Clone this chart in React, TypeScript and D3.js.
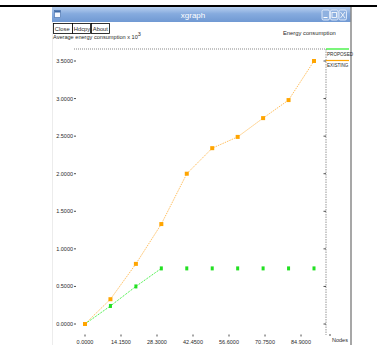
import React from "react";
import * as d3 from "d3";

const nodes = [0, 10, 20, 30, 40, 50, 60, 70, 80, 90];
const existing = [0, 0.33, 0.8, 1.33, 2.0, 2.34, 2.49, 2.74, 2.98, 3.5];
const proposed = [0, 0.24, 0.5, 0.74, 0.74, 0.74, 0.74, 0.74, 0.74, 0.74];
const yTicks = [0, 0.5, 1.0, 1.5, 2.0, 2.5, 3.0, 3.5];
const xTicks = [0, 14.15, 28.3, 42.45, 56.6, 70.75, 84.9];
const seriesNames = ["PROPOSED", "EXISTING"];

const W = 377;
const H = 345;
const FONT = "'Liberation Sans', Arial, sans-serif";
const INK = "#2a2a2a";

export default function App() {
  const x = d3.scaleLinear().domain([0, 90]).range([85, 314]);
  const y = d3.scaleLinear().domain([0, 3.5]).range([324, 61]);
  const plot = { left: 74, right: 326, top: 49, bottom: 335 };

  const existingPts = nodes.map((n, i) => [n, existing[i]] as [number, number]);
  const proposedPts = nodes.map((n, i) => [n, proposed[i]] as [number, number]);
  const line = d3
    .line<[number, number]>()
    .x((d) => x(d[0]))
    .y((d) => y(d[1]));

  // segments of proposed where value changes (flat dotted segments vanish in the reference)
  const propSegs: [number, number][][] = [];
  for (let i = 0; i < proposedPts.length - 1; i++) {
    if (proposedPts[i][1] !== proposedPts[i + 1][1]) propSegs.push([proposedPts[i], proposedPts[i + 1]]);
  }

  const fmt = (v: number) => v.toFixed(4);

  return (
    <svg
      width={W}
      height={H}
      style={{ position: "absolute", left: 0, top: 0, background: "#fff" }}
      fontFamily={FONT}
    >
      <defs>
        <linearGradient id="tb" x1="0" y1="0" x2="0" y2="1">
          <stop offset="0" stopColor="#b8d0ef" />
          <stop offset="0.45" stopColor="#86abde" />
          <stop offset="1" stopColor="#7099d3" />
        </linearGradient>
      </defs>
      <rect x={0} y={0} width={W} height={H} fill="#fff" />
      {/* top black rule */}
      <rect x={0} y={5} width={W} height={2} fill="#000" />

      {/* window chrome */}
      <rect x={52} y={7} width={299} height={15} fill="url(#tb)" />
      <rect x={54.5} y={10.5} width={6} height={7} fill="#f4f8ff" stroke="#3e6aa8" strokeWidth={0.6} />
      <rect x={54.5} y={10.5} width={6} height={2} fill="#3e6aa8" />
      <text x={193} y={18} fontSize={8} fill="#fff" textAnchor="middle">
        xgraph
      </text>
      {[322, 330.5, 339].map((bx, i) => (
        <g key={i}>
          <rect x={bx} y={10} width={7.5} height={10} rx={1.5} fill="#8fb1e0" stroke="#eef4ff" strokeWidth={0.8} />
        </g>
      ))}
      <line x1={323.5} y1={17.5} x2={327.5} y2={17.5} stroke="#fff" strokeWidth={1} />
      <rect x={332} y={12.5} width={4.5} height={5} fill="none" stroke="#fff" strokeWidth={0.8} />
      <line x1={340.5} y1={12} x2={345} y2={18} stroke="#fff" strokeWidth={0.8} />
      <line x1={345} y1={12} x2={340.5} y2={18} stroke="#fff" strokeWidth={0.8} />
      <line x1={52.5} y1={22} x2={52.5} y2={H} stroke="#ececec" strokeWidth={1} />
      <line x1={351} y1={7} x2={351} y2={H} stroke="#8a8a8a" strokeWidth={1.5} />

      {/* buttons */}
      {[
        { x: 53, w: 19, t: "Close" },
        { x: 72, w: 18, t: "Hdcpy" },
        { x: 91, w: 18, t: "About" },
      ].map((b) => (
        <g key={b.t}>
          <rect x={b.x + 0.5} y={23.5} width={b.w} height={10} fill="#fff" stroke="#000" strokeWidth={0.8} />
          <text x={b.x + 1.8} y={31.2} fontSize={5.8} fill={INK}>
            {b.t}
          </text>
        </g>
      ))}
      <text x={53} y={38.5} fontSize={5.6} fill={INK}>
        Average energy consumption  x 10
        <tspan dy={-3} fontSize={5.5}>
          3
        </tspan>
      </text>
      <text x={283} y={35} fontSize={5.8} fill={INK}>
        Energy consumption
      </text>

      {/* plot frame */}
      <line x1={plot.left} y1={plot.top} x2={plot.right} y2={plot.top} stroke="#555" strokeWidth={0.7} strokeDasharray="1,1" />
      <line x1={plot.right} y1={plot.top} x2={plot.right} y2={plot.bottom} stroke="#a8a8a8" strokeWidth={1.2} strokeDasharray="1.5,1" />

      {/* y ticks */}
      {yTicks.map((t) => (
        <g key={t}>
          <text x={73} y={y(t) + 2} fontSize={5.5} textAnchor="end" fill={INK}>
            {fmt(t)}
          </text>
          <line x1={74} y1={y(t)} x2={76} y2={y(t)} stroke="#000" strokeWidth={0.7} />
          <line x1={323.5} y1={y(t)} x2={326} y2={y(t)} stroke="#000" strokeWidth={0.7} />
        </g>
      ))}

      {/* x ticks */}
      {xTicks.map((t) => (
        <g key={t}>
          <line x1={x(t)} y1={334.5} x2={x(t)} y2={336.5} stroke="#000" strokeWidth={0.7} />
          <text x={x(t)} y={344} fontSize={5.5} textAnchor="middle" fill={INK}>
            {fmt(t)}
          </text>
        </g>
      ))}
      <text x={332} y={342} fontSize={5.5} fill={INK}>
        Nodes
      </text>
      <line x1={329} y1={335} x2={331} y2={335} stroke="#000" strokeWidth={0.7} />

      {/* series */}
      <path d={line(existingPts) || ""} fill="none" stroke="#ffc060" strokeWidth={1} strokeDasharray="1.5,1" />
      {propSegs.map((s, i) => (
        <path key={i} d={line(s) || ""} fill="none" stroke="#22ee22" strokeWidth={1} strokeDasharray="1,1" />
      ))}
      {proposedPts.map((p, i) => (
        <rect key={"p" + i} x={x(p[0]) - 1.5} y={y(p[1]) - 2} width={3} height={4} fill="#22e022" />
      ))}
      {existingPts.map((p, i) => (
        <rect key={"e" + i} x={x(p[0]) - 2} y={y(p[1]) - 2} width={4} height={4} fill="#ffa500" />
      ))}

      {/* legend */}
      <line x1={326} y1={49} x2={349} y2={49} stroke="#22ee22" strokeWidth={1.2} />
      <text x={327} y={55.5} fontSize={4.6} fill={INK}>
        {seriesNames[0]}
      </text>
      <line x1={326} y1={60.5} x2={349} y2={60.5} stroke="#ffa500" strokeWidth={1.2} />
      <text x={327} y={67} fontSize={4.6} fill={INK}>
        {seriesNames[1]}
      </text>
    </svg>
  );
}
